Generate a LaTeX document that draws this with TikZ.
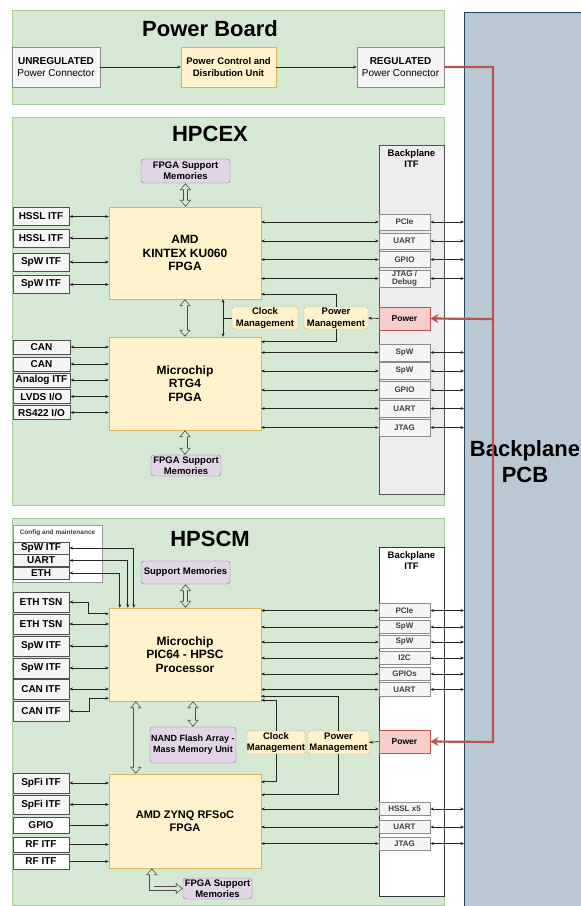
\documentclass[tikz,border=0pt]{standalone}
\usepackage{fontspec}
\setmainfont{Liberation Sans}
\usetikzlibrary{arrows.meta,positioning}

\definecolor{pnlfill}{HTML}{D5E8D4}
\definecolor{pnldraw}{HTML}{A9CC98}
\definecolor{chipfill}{HTML}{FFF2CC}
\definecolor{chipdraw}{HTML}{D6B656}
\definecolor{memfill}{HTML}{E1D5E7}
\definecolor{memdraw}{HTML}{9673A6}
\definecolor{itffill}{HTML}{F5F5F5}
\definecolor{itfdraw}{HTML}{505050}
\definecolor{pwrfill}{HTML}{F8CECC}
\definecolor{pwrdraw}{HTML}{B85450}
\definecolor{pcbfill}{HTML}{BAC8D3}
\definecolor{pcbdraw}{HTML}{23445D}
\definecolor{feedred}{HTML}{B85450}

\tikzset{
  panel/.style={fill=pnlfill, draw=pnldraw, line width=0.8pt},
  title/.style={font=\bfseries\fontsize{22}{24}\selectfont},
  chip/.style={fill=chipfill, draw=chipdraw, align=center, inner sep=0pt, font=\bfseries\fontsize{12}{13.5}\selectfont},
  mgmt/.style={fill=chipfill, draw=chipdraw, rounded corners=2pt, align=center, inner sep=0pt, font=\bfseries\fontsize{9.5}{11.5}\selectfont},
  mem/.style={fill=memfill, draw=memdraw, rounded corners=3pt, align=center, inner sep=0pt, font=\bfseries\fontsize{9.5}{11}\selectfont},
  itf/.style={fill=itffill, draw=itfdraw, line width=1pt, inner sep=0pt, minimum width=56pt, font=\bfseries\fontsize{10}{11}\selectfont},
  conn/.style={fill=itffill, draw=black!45, line width=0.8pt, inner sep=0pt, align=center, minimum height=40pt, font=\fontsize{10}{12}\selectfont},
  port/.style={fill=itffill, draw=black!45, line width=0.8pt, inner sep=0pt, minimum width=51pt, align=center, text=black!75, font=\bfseries\fontsize{8}{8.5}\selectfont},
  pwr/.style={fill=pwrfill, draw=pwrdraw, line width=0.8pt, inner sep=0pt, minimum width=51pt, minimum height=23pt, font=\bfseries\fontsize{8.5}{10}\selectfont},
  bpitf/.style={draw=itfdraw, line width=0.8pt, minimum width=65pt, minimum height=349pt, inner sep=0pt},
  bplbl/.style={align=center, font=\bfseries\fontsize{9.5}{11.5}\selectfont},
  link/.style={{Stealth[length=3.5pt,width=3pt]}-{Stealth[length=3.5pt,width=3pt]}, line width=0.7pt, draw=black!85},
  onearrow/.style={-{Stealth[length=3.5pt,width=3pt]}, line width=0.7pt, draw=black!85},
  bus/.style={draw=pnlfill, line width=3.4pt, line join=miter, shorten <=1.3pt, shorten >=1.3pt,
    {Triangle[length=4.9pt,width=8.3pt]}-{Triangle[length=4.9pt,width=8.3pt]},
    preaction={draw=black!70, line width=5pt, shorten <=0pt, shorten >=0pt,
      {Triangle[length=7pt,width=11pt]}-{Triangle[length=7pt,width=11pt]}}},
  feedline/.style={draw=feedred, line width=2.2pt, -{Stealth[length=8pt,width=9pt,inset=2.5pt]}}
}

\begin{document}
\begin{tikzpicture}[x=1pt,y=-1pt]
  \useasboundingbox (0,0) rectangle (581,906);
  \fill[white] (0,0) rectangle (581,906);

  % backplane PCB
  \draw[fill=pcbfill, draw=pcbdraw, line width=0.8pt] (464,12) rectangle (590,915);
  \coordinate (pcbedge) at (464,12);
  \node[align=center, font=\bfseries\fontsize{22}{26}\selectfont] (pcb) at (525,462) {Backplane\\PCB};

  % power board
  \draw[panel] (12,10) rectangle (444,104);
  \node[title] (pbtitle) at (210,29) {Power Board};
  \node[conn, minimum width=88pt] (unreg) at (56,67) {\textbf{UNREGULATED}\\Power Connector};
  \node[mgmt, rounded corners=0pt, minimum width=95pt, minimum height=40pt] (pcdu) at (228.5,67) {Power Control and\\Disribution Unit};
  \node[conn, minimum width=87pt] (reg) at (400.5,67) {\textbf{REGULATED}\\Power Connector};
  \draw[onearrow] (unreg) -- (pcdu);
  \draw[onearrow] (pcdu) -- (reg);

  % HPCEX
  \draw[panel] (12,117) rectangle (444,505);
  \node[title] (cextitle) at (210,134) {HPCEX};
  \node[mem, minimum width=89pt, minimum height=24pt] (memA) at (185.5,171) {FPGA Support\\Memories};
  \node[chip, minimum width=152pt, minimum height=92pt] (kintex) at (185,253) {AMD\\KINTEX KU060\\FPGA};
  \node[chip, minimum width=152pt, minimum height=93pt] (rtg4) at (185,383.5) {Microchip\\RTG4\\FPGA};
  \node[mem, minimum width=70pt, minimum height=21pt] (memB) at (186,465.5) {FPGA Support\\Memories};
  \draw[bus] (memA.south) -- (memA.south |- kintex.north);
  \draw[bus] (kintex.south) -- (rtg4.north);
  \draw[bus] (rtg4.south) -- (rtg4.south |- memB.north);

  \foreach \nm/\yy/\lbl in {ha/216.5/HSSL ITF, hb/238/HSSL ITF, hc/262/SpW ITF, hd/284.5/SpW ITF}{
    \node[itf, minimum height=18pt] (\nm) at (41,\yy) {\lbl};
    \draw[link] (\nm.east) -- (\nm.east -| kintex.west);
  }
  \foreach \nm/\yy/\lbl in {ra/347/CAN, rb/364/CAN, rc/380/Analog ITF, rd/396.5/{LVDS I/O}, re/412.5/{RS422 I/O}}{
    \node[itf, minimum width=57pt, minimum height=14pt] (\nm) at (41.5,\yy) {\lbl};
    \draw[link] (\nm.east) -- (\nm.east -| rtg4.west);
  }

  \node[bpitf, fill=black!7] (bpA) at (411.5,319.5) {};
  \node[bplbl, below=1pt of bpA.north] (bpAlbl) {Backplane\\ITF};
  \foreach \nm/\yy/\hh/\lbl in {pa/222/16/PCIe, pb/241/16/UART, pc/259.5/16/GPIO, pd/278.5/17/{JTAG /\\Debug}}{
    \node[port, minimum height=\hh] (\nm) at (404.5,\yy) {\lbl};
    \draw[link] (\nm.west -| kintex.east) -- (\nm.west);
    \draw[link] (\nm.east) -- (\nm.east -| pcbedge);
  }
  \foreach \nm/\yy/\lbl in {pe/352.5/SpW, pf/371/SpW, pg/390/GPIO, ph/408.5/UART, pi/427.5/JTAG}{
    \node[port, minimum height=17pt] (\nm) at (404.5,\yy) {\lbl};
    \draw[link] (\nm.west -| rtg4.east) -- (\nm.west);
    \draw[link] (\nm.east) -- (\nm.east -| pcbedge);
  }

  \node[pwr] (pwrA) at (404.5,318.5) {Power};
  \node[mgmt, minimum width=66pt, minimum height=22pt] (clkA) at (265,318) {Clock\\Management};
  \node[mgmt, minimum width=64pt, minimum height=22pt] (pmA) at (336,318) {Power\\Management};
  \draw[onearrow] (pwrA.west) -- (pmA.east);
  \draw[onearrow] (pmA.north) |- ([yshift=5pt]kintex.south east);
  \draw[onearrow] (pmA.south) |- ([yshift=-5pt]rtg4.north east);
  \coordinate (clkx) at (223,0);
  \draw[link] (kintex.south -| clkx) -- (rtg4.north -| clkx);
  \draw[line width=0.7pt, draw=black!85] (clkA.west) -- (clkA.west -| clkx);

  % HPSCM
  \draw[panel] (12,518) rectangle (444,905);
  \node[title] (scmtitle) at (210,539) {HPSCM};
  \node[mem, minimum width=89pt, minimum height=23pt] (memS) at (185.5,572.5) {Support Memories};
  \node[chip, minimum width=152pt, minimum height=93pt] (proc) at (185,654.5) {Microchip\\PIC64 - HPSC\\Processor};
  \draw[bus] (memS.south) -- (memS.south |- proc.north);

  \node[draw=black!40, fill=white, minimum width=89pt, minimum height=57pt, inner sep=0pt] (cfg) at (57.5,553.5) {};
  \node[font=\bfseries\fontsize{6.5}{7}\selectfont, text=black!75, below=1.5pt of cfg.north] (cfglbl) {Config and maintenance};
  \foreach \nm/\yy/\dx/\lbl in {ca/548/25/SpW ITF, cb/560.5/19/UART, cc/573/11/ETH}{
    \node[itf, minimum height=12pt] (\nm) at (41,\yy) {\lbl};
    \draw[link] (\nm.east) -| ([xshift=\dx pt]proc.north west);
  }

  \foreach \nm/\yy/\lbl in {sa/602/ETH TSN, sb/624/ETH TSN, sc/646/SpW ITF, sd/668/SpW ITF, se/689/CAN ITF, sf/711/CAN ITF}
    \node[itf, minimum height=20pt] (\nm) at (41,\yy) {\lbl};
  \draw[link] (sa.east) -- ++(19,0) |- ([yshift=-6pt]proc.north west);
  \foreach \nm in {sb,sc,sd,se}
    \draw[link] (\nm.east) -- (\nm.east -| proc.west);
  \draw[link] (sf.east) -- ++(20,0) |- ([yshift=3pt]proc.south west);

  \node[chip, font=\bfseries\fontsize{11}{13.5}\selectfont, minimum width=152pt, minimum height=94pt] (zynq) at (185,821) {AMD ZYNQ RFSoC\\FPGA};
  \node[mem, font=\bfseries\fontsize{9}{11}\selectfont, minimum width=86pt, minimum height=36pt] (nand) at (193,745) {NAND Flash Array -\\Mass Memory Unit};
  \node[mem, minimum width=69pt, minimum height=21pt] (memC) at (217.5,888.5) {FPGA Support\\Memories};
  \draw[bus] (nand.north |- proc.south) -- (nand.north);
  \draw[bus] ([xshift=27pt]proc.south west) -- ([xshift=27pt]zynq.north west);
  \draw[bus] ([xshift=43pt]zynq.south west) |- (memC.west);

  \foreach \nm/\yy/\hh/\lbl in {ta/783/20/SpFi ITF, tb/804.5/19/SpFi ITF}{
    \node[itf, minimum height=\hh] (\nm) at (41,\yy) {\lbl};
    \draw[link] (\nm.east) -- (\nm.east -| zynq.west);
  }
  \foreach \nm/\yy/\hh/\lbl in {tc/825/16/GPIO, td/844.5/15/RF ITF, te/861.5/15/RF ITF}{
    \node[itf, fill=white, minimum height=\hh] (\nm) at (41,\yy) {\lbl};
    \draw[onearrow] (\nm.east) -- (\nm.east -| zynq.west);
  }

  \node[bpitf, fill=white, draw=black!80] (bpB) at (411.5,721.5) {};
  \node[bplbl, below=1pt of bpB.north] (bpBlbl) {Backplane\\ITF};
  \foreach \nm/\yy/\lbl in {qa/610.5/PCIe, qb/627/SpW, qc/642/SpW, qd/658/I2C, qe/674/GPIOs, qf/689.5/UART}{
    \node[port, minimum height=13.5pt] (\nm) at (404.5,\yy) {\lbl};
    \draw[link] (\nm.west -| proc.east) -- (\nm.west);
    \draw[link] (\nm.east) -- (\nm.east -| pcbedge);
  }
  \foreach \nm/\yy/\lbl in {qg/809/HSSL x5, qh/827/UART, qi/843.5/JTAG}{
    \node[port, minimum height=13pt] (\nm) at (404.5,\yy) {\lbl};
    \draw[link] (\nm.west -| zynq.east) -- (\nm.west);
    \draw[link] (\nm.east) -- (\nm.east -| pcbedge);
  }

  \node[pwr] (pwrB) at (404.5,741.5) {Power};
  \node[mgmt, minimum width=58pt, minimum height=23pt] (clkB) at (276,742.5) {Clock\\Management};
  \node[mgmt, minimum width=61pt, minimum height=23pt] (pmB) at (338.5,742.5) {Power\\Management};
  \draw[onearrow] (pwrB.west) -- (pmB.east);
  \draw[onearrow] (pmB.north) |- ([yshift=5pt]proc.south east);
  \draw[onearrow] (clkB.north) |- ([yshift=1pt]proc.south east);
  \draw[onearrow] (clkB.south) |- ([yshift=-8pt]zynq.north east);
  \draw[onearrow] (pmB.south) |- ([yshift=-21pt]zynq.north east);

  % power feed over the backplane
  \coordinate (tapA) at (493,319);
  \coordinate (tapB) at (493,742);
  \draw[feedline] (reg.east) -| (tapB) -- (pwrB.east);
  \draw[feedline] (tapA) -- (pwrA.east);
\end{tikzpicture}
\end{document}
